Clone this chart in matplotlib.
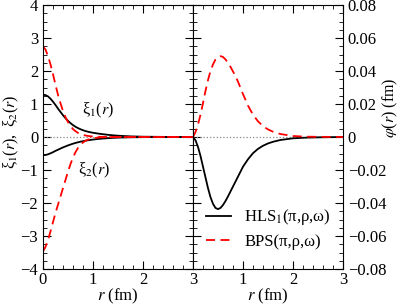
import matplotlib
matplotlib.use("Agg")
import matplotlib.pyplot as plt
from matplotlib.ticker import MultipleLocator

plt.rcParams.update({
    "font.family": "Liberation Serif",
    "mathtext.fontset": "stix",
    "font.size": 11.5,
    "xtick.labelsize": 12,
    "ytick.labelsize": 12,
    "xtick.direction": "in",
    "ytick.direction": "in",
    "xtick.major.size": 6,
    "ytick.major.size": 6,
    "xtick.minor.size": 3,
    "ytick.minor.size": 3,
    "xtick.major.pad": 2,
})

# left panel: xi_1(r), xi_2(r)
r_xi = [0.0, 0.05, 0.1, 0.15, 0.2, 0.25, 0.3, 0.35, 0.4, 0.45, 0.5, 0.55,
        0.6, 0.65, 0.7, 0.75, 0.8, 0.85, 0.9, 0.95, 1.0, 1.1, 1.2, 1.3, 1.4,
        1.5, 1.75, 2.0, 2.5, 3.0]
xi1_hls = [1.28, 1.27, 1.23, 1.16, 1.07, 0.97, 0.86, 0.76, 0.66, 0.57, 0.49,
           0.42, 0.36, 0.31, 0.27, 0.235, 0.205, 0.18, 0.16, 0.143, 0.128,
           0.104, 0.084, 0.066, 0.051, 0.039, 0.019, 0.009, 0.002, 0.0]
xi2_hls = [-0.55, -0.545, -0.525, -0.495, -0.46, -0.42, -0.385, -0.35,
           -0.315, -0.285, -0.255, -0.228, -0.203, -0.18, -0.16, -0.142,
           -0.126, -0.112, -0.099, -0.088, -0.078, -0.06, -0.046, -0.035,
           -0.026, -0.019, -0.009, -0.004, -0.001, 0.0]
xi1_bps = [2.74, 2.65, 2.45, 2.2, 1.9, 1.58, 1.28, 1.02, 0.79, 0.6, 0.45,
           0.33, 0.24, 0.175, 0.125, 0.09, 0.064, 0.045, 0.032, 0.022, 0.015,
           0.007, 0.003, 0.0015, 0.001, 0.0005, 0.0, 0.0, 0.0, 0.0]
xi2_bps = [-3.47, -3.33, -3.12, -2.86, -2.58, -2.3, -2.05, -1.8, -1.55,
           -1.3, -1.05, -0.82, -0.62, -0.46, -0.33, -0.235, -0.165, -0.115,
           -0.08, -0.055, -0.038, -0.017, -0.007, -0.003, -0.0015, -0.001,
           0.0, 0.0, 0.0, 0.0]

# right panel: phi(r)
r_phi = [0.0, 0.05, 0.1, 0.15, 0.2, 0.25, 0.3, 0.35, 0.4, 0.45, 0.5, 0.55,
         0.6, 0.65, 0.7, 0.75, 0.8, 0.85, 0.9, 0.95, 1.0, 1.1, 1.2, 1.3, 1.4,
         1.5, 1.6, 1.75, 2.0, 2.25, 2.5, 3.0]
phi_hls = [0.0, -0.002, -0.006, -0.0115, -0.018, -0.0245, -0.031, -0.0365,
           -0.0405, -0.043, -0.0437, -0.043, -0.0412, -0.0388, -0.036, -0.033,
           -0.030, -0.027, -0.024, -0.021, -0.018, -0.0135, -0.0098, -0.0072,
           -0.0053, -0.0039, -0.0029, -0.0018, -0.0008, -0.0004, -0.0002, 0.0]
phi_bps = [0.0, 0.003, 0.0075, 0.0135, 0.0205, 0.028, 0.0345, 0.040, 0.044,
           0.047, 0.0485, 0.049, 0.0485, 0.047, 0.045, 0.0425, 0.0397, 0.037,
           0.0335, 0.0298, 0.026, 0.019, 0.0135, 0.0095, 0.0066, 0.0046,
           0.0032, 0.0018, 0.0006, 0.0002, 0.0001, 0.0]

labels = [r"HLS$_1$(π,ρ,ω)", "BPS(π,ρ,ω)"]

fig = plt.figure(figsize=(4.02, 3.05), dpi=100)
ax1 = fig.add_axes([43 / 402, 36 / 305, 150 / 402, 264 / 305])
ax2 = fig.add_axes([193 / 402, 36 / 305, 150 / 402, 264 / 305])

dash = (0, (5, 3))
lw = 1.3

ax1.axhline(0, color="#888888", lw=0.9, ls=":")
ax1.plot(r_xi, xi1_hls, color="black", lw=lw)
ax1.plot(r_xi, xi2_hls, color="black", lw=lw)
ax1.plot(r_xi, xi1_bps, color="red", lw=lw, ls=dash)
ax1.plot(r_xi, xi2_bps, color="red", lw=lw, ls=dash)
ax1.set_xlim(0, 3)
ax1.set_ylim(-4, 4)
ax1.xaxis.set_major_locator(MultipleLocator(1))
ax1.xaxis.set_minor_locator(MultipleLocator(0.2))
ax1.yaxis.set_major_locator(MultipleLocator(1))
ax1.yaxis.set_minor_locator(MultipleLocator(0.25))
ax1.tick_params(which="both", top=True, right=True)
ax1.set_xlabel(r"$r$ (fm)", labelpad=-1, fontsize=12)
ax1.set_ylabel(r"ξ$_1$($r$),  ξ$_2$($r$)")
ax1.yaxis.set_label_coords(-0.145, 0.52)
ax1.text(0.78, 0.82, r"ξ$_1$($r$)", va="center")
ax1.text(0.70, -1.0, r"ξ$_2$($r$)", va="center")

ax2.axhline(0, color="#888888", lw=0.9, ls=":")
ax2.plot(r_phi, phi_hls, color="black", lw=lw, label=labels[0])
ax2.plot(r_phi, phi_bps, color="red", lw=lw, ls=dash, label=labels[1])
ax2.set_xlim(0, 3)
ax2.set_ylim(-0.08, 0.08)
ax2.xaxis.set_minor_locator(MultipleLocator(0.2))
ax2.yaxis.set_major_locator(MultipleLocator(0.02))
ax2.yaxis.set_minor_locator(MultipleLocator(0.005))
ax2.set_xticks([1, 2, 3])
ax2.yaxis.tick_right()
ax2.yaxis.set_label_position("right")
ax2.tick_params(which="both", top=True, left=True, right=True)
ax2.yaxis.set_major_formatter(
    plt.FuncFormatter(lambda v, p: "0" if abs(v) < 1e-9 else f"{v:.2f}".replace("-", "\u2212")))
ax2.set_xlabel(r"$r$ (fm)", labelpad=-1, fontsize=12)
ax2.set_ylabel(r"$\varphi$($r$) (fm)")
ax2.yaxis.set_label_coords(1.255, 0.61)
ax2.legend(loc="lower right", bbox_to_anchor=(1.02, 0.015), frameon=False,
           handlelength=1.5, handletextpad=0.8, labelspacing=0.4, fontsize=12)

fig.savefig("out.png", dpi=100)
